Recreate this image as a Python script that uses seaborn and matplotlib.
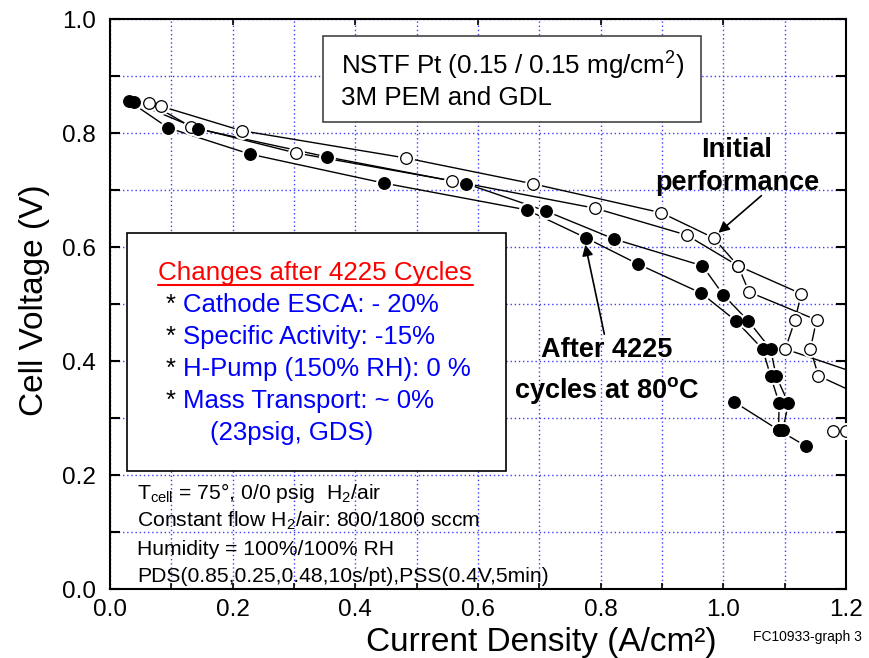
import matplotlib
matplotlib.use("Agg")
import matplotlib.pyplot as plt
import seaborn as sns
from matplotlib.patches import Rectangle
from matplotlib.lines import Line2D
from matplotlib.ticker import MultipleLocator

# ---------------- data ----------------
# Initial performance (open circles), two scan branches
init_a_x = [0.064, 0.132, 0.303, 0.558, 0.791, 0.940, 1.024, 1.042, 1.152, 1.142, 1.155, 1.250, 1.200]
init_a_y = [0.853, 0.811, 0.765, 0.716, 0.668, 0.621, 0.567, 0.521, 0.472, 0.421, 0.374, 0.327, 0.277]
init_b_x = [0.083, 0.215, 0.483, 0.689, 0.899, 0.984, 1.024, 1.127, 1.117, 1.101, 1.230, 1.270, 1.178, 1.230]
init_b_y = [0.847, 0.804, 0.756, 0.711, 0.660, 0.616, 0.567, 0.518, 0.472, 0.421, 0.374, 0.327, 0.277, 0.250]

# After 4225 cycles (filled circles)
after_a_x = [0.031, 0.095, 0.228, 0.447, 0.680, 0.776, 0.861, 0.964, 1.021, 1.064, 1.077, 1.091, 1.090, 1.134]
after_a_y = [0.856, 0.809, 0.763, 0.712, 0.665, 0.616, 0.570, 0.519, 0.470, 0.421, 0.374, 0.326, 0.279, 0.251]
after_b_x = [0.039, 0.144, 0.354, 0.581, 0.711, 0.822, 0.966, 1.000, 1.041, 1.077, 1.086, 1.106, 1.097]
after_b_y = [0.854, 0.807, 0.758, 0.711, 0.663, 0.614, 0.567, 0.516, 0.470, 0.421, 0.374, 0.326, 0.279]
after_c_x = [1.018, 1.090]
after_c_y = [0.328, 0.279]

x_ticks = [0.0, 0.2, 0.4, 0.6, 0.8, 1.0, 1.2]
y_ticks = [0.0, 0.2, 0.4, 0.6, 0.8, 1.0]

# ---------------- style ----------------
sns.set_style("white")
plt.rcParams["font.family"] = ["Liberation Sans", "DejaVu Sans"]
plt.rcParams["mathtext.fontset"] = "custom"
plt.rcParams["mathtext.rm"] = "Liberation Sans"
plt.rcParams["mathtext.it"] = "Liberation Sans:italic"
plt.rcParams["mathtext.bf"] = "Liberation Sans:bold"
for k in ["text.color", "axes.labelcolor", "xtick.color", "ytick.color"]:
    plt.rcParams[k] = "black"

W, H = 870, 658
fig = plt.figure(figsize=(W / 100, H / 100), dpi=100)
fig.patch.set_facecolor("white")


def fx(px):
    return px / W


def fy(py):
    return 1 - py / H


ax = fig.add_axes([fx(110), fy(589), (846 - 110) / W, (589 - 19) / H])
ax.set_xlim(0, 1.2)
ax.set_ylim(0, 1.0)

# grid
grid_col = "#3d3dff"
ax.set_axisbelow(True)
ax.xaxis.set_major_locator(MultipleLocator(0.2))
ax.xaxis.set_minor_locator(MultipleLocator(0.1))
ax.yaxis.set_major_locator(MultipleLocator(0.2))
ax.yaxis.set_minor_locator(MultipleLocator(0.1))
ax.grid(True, which="both", color=grid_col, linestyle=(0, (1, 2)), linewidth=1.0)

# lines
for xs, ys in [(init_a_x, init_a_y), (init_b_x, init_b_y),
               (after_a_x, after_a_y), (after_b_x, after_b_y), (after_c_x, after_c_y)]:
    sns.lineplot(x=xs, y=ys, sort=False, estimator=None, color="black",
                 linewidth=1.0, ax=ax, zorder=2)

# white halos -> gaps between lines and markers
all_x = init_a_x + init_b_x + after_a_x + after_b_x + after_c_x
all_y = init_a_y + init_b_y + after_a_y + after_b_y + after_c_y
sns.scatterplot(x=all_x, y=all_y, s=150, color="white", linewidth=0, ax=ax, zorder=3)

# markers
sns.scatterplot(x=init_a_x + init_b_x, y=init_a_y + init_b_y, s=70, marker="o",
                facecolor="white", edgecolor="black", linewidth=0.9, ax=ax, zorder=4)
sns.scatterplot(x=after_a_x + after_b_x + after_c_x, y=after_a_y + after_b_y + after_c_y,
                s=70, marker="o", color="black", edgecolor="black", linewidth=0.9, ax=ax, zorder=5)

# axes / ticks
for sp in ax.spines.values():
    sp.set_linewidth(1.5)
    sp.set_color("black")
ax.set_xticks(x_ticks)
ax.set_yticks(y_ticks)
ax.set_xticklabels([f"{v:.1f}" for v in x_ticks])
ax.set_yticklabels([f"{v:.1f}" for v in y_ticks])
ax.tick_params(axis="x", which="major", direction="in", length=4, width=1.2,
               top=True, bottom=True, labelsize=17.5, pad=7, colors="black")
ax.tick_params(axis="x", which="minor", direction="in", length=4, width=1.2,
               top=False, bottom=True, colors="black")
ax.tick_params(axis="y", which="both", direction="in", length=7.5, width=1.5,
               left=True, right=True, labelsize=17.5, pad=10, colors="black")
ax.set_xlabel("")
ax.set_ylabel("")

fig.text(fx(35), fy(300), "Cell Voltage (V)", rotation=90, ha="center", va="center", fontsize=24)
fig.text(fx(541), fy(651), "Current Density (A/cm²)", ha="center", va="baseline", fontsize=24)
fig.text(fx(862), fy(641), "FC10933-graph 3", ha="right", va="baseline", fontsize=10)

# box 1
fig.add_artist(Rectangle((fx(323), fy(122)), (701 - 323) / W, (122 - 36) / H,
                         transform=fig.transFigure, facecolor="white", edgecolor="#444444",
                         linewidth=1.2, zorder=10))
fig.text(fx(341), fy(75), r"NSTF Pt (0.15 / 0.15 mg/cm$^{2}$)", fontsize=18.7, va="baseline", zorder=11)
fig.text(fx(341), fy(105), "3M PEM and GDL", fontsize=18.7, va="baseline", zorder=11)

# box 2
fig.add_artist(Rectangle((fx(127), fy(471)), (506 - 127) / W, (471 - 233) / H,
                         transform=fig.transFigure, facecolor="white", edgecolor="black",
                         linewidth=1.2, zorder=10))
fig.text(fx(158), fy(280), "Changes after 4225 Cycles", fontsize=18.7, color="#ff0000",
         va="baseline", zorder=11)
fig.add_artist(Line2D([fx(158), fx(473)], [fy(284.5), fy(284.5)], transform=fig.transFigure,
                      color="#ff0000", linewidth=1.5, zorder=11))
blue_lines = ["Cathode ESCA: - 20%", "Specific Activity: -15%", "H-Pump (150% RH): 0 %",
              "Mass Transport: ~ 0%"]
for i, t in enumerate(blue_lines):
    yb = 312 + 32 * i
    fig.text(fx(166), fy(yb), "*", fontsize=18.5, color="black", va="baseline", zorder=11)
    fig.text(fx(183), fy(yb), t, fontsize=18.5, color="#0000ff", va="baseline", zorder=11)
fig.text(fx(210), fy(440), "(23psig, GDS)", fontsize=18.5, color="#0000ff", va="baseline", zorder=11)

# bottom conditions text
cond = [r"T$_{\mathrm{cell}}$ = 75°, 0/0 psig  H$_{2}$/air",
        r"Constant flow H$_{2}$/air: 800/1800 sccm",
        "Humidity = 100%/100% RH",
        "PDS(0.85,0.25,0.48,10s/pt),PSS(0.4V,5min)"]
for t, yb in zip(cond, [499, 527, 555, 582]):
    fig.text(fx(137), fy(yb), t, fontsize=15.2, va="baseline", zorder=11)

# annotations
fig.text(fx(737), fy(157), "Initial", fontsize=19.5, fontweight="bold", ha="center", va="baseline")
fig.text(fx(737), fy(190), "performance", fontsize=19.5, fontweight="bold", ha="center", va="baseline")
fig.text(fx(607), fy(357), "After 4225", fontsize=19.5, fontweight="bold", ha="center", va="baseline")
fig.text(fx(607), fy(398), r"cycles at 80$^{\mathbf{o}}$C", fontsize=19.5, fontweight="bold",
         ha="center", va="baseline")

ax.annotate("", xy=(0.992, 0.625), xytext=(1.062, 0.690),
            arrowprops=dict(arrowstyle="-|>", color="black", lw=1.2, mutation_scale=16,
                            shrinkA=0, shrinkB=0), zorder=8)
ax.annotate("", xy=(0.775, 0.604), xytext=(0.806, 0.447),
            arrowprops=dict(arrowstyle="-|>", color="black", lw=1.2, mutation_scale=16,
                            shrinkA=0, shrinkB=0), zorder=8)

fig.savefig("out.png", dpi=100)
